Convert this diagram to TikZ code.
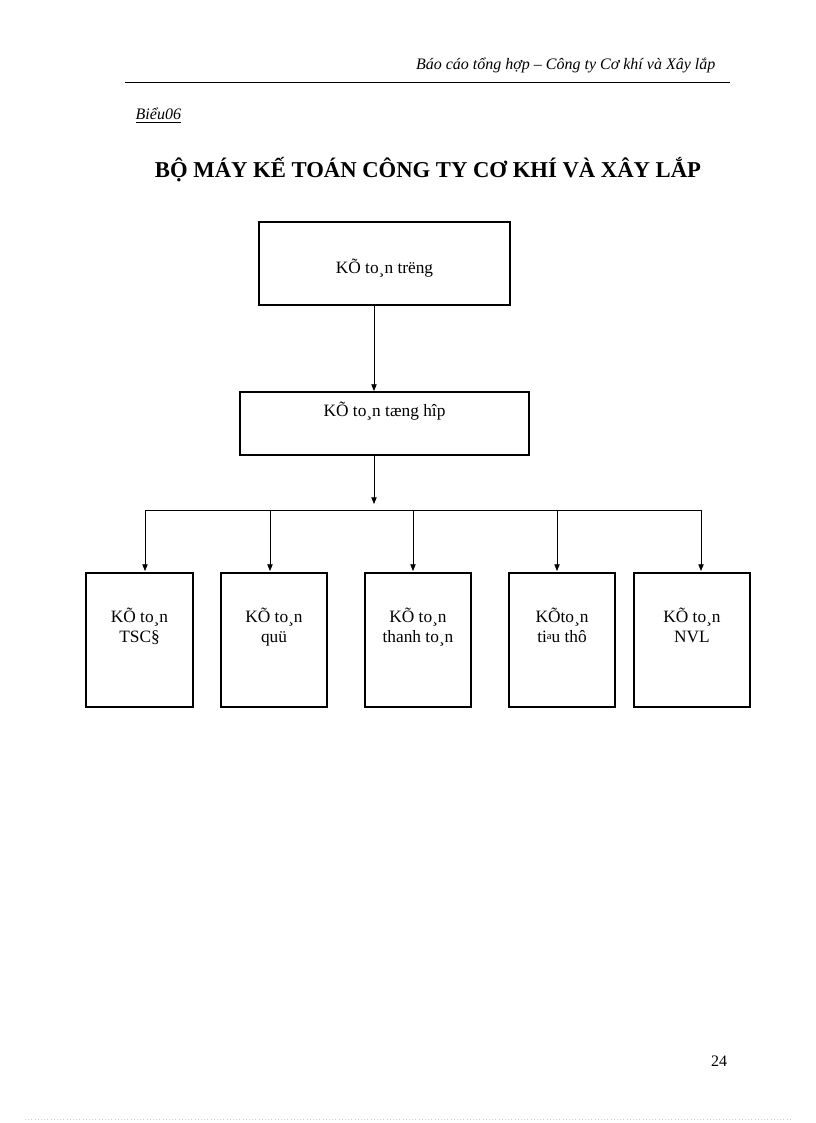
\documentclass[tikz,border=0pt]{standalone}
\usepackage{fontspec}
\setmainfont{Liberation Serif}
\usetikzlibrary{arrows.meta}
\begin{document}
\begin{tikzpicture}[x=0.75pt,y=-0.75pt,
  box/.style={draw,line width=2.2pt,minimum width=#1,inner sep=0pt},
  lbl/.style={font=\fontsize{13}{15}\selectfont,align=center},
  arr/.style={-{Triangle[length=5pt,width=4pt]},line width=0.5pt}]
\useasboundingbox (0,0) rectangle (816,1123);
\node[anchor=base east,font=\fontsize{12}{14}\selectfont\itshape] (hdr) at (720,70) {Báo cáo tổng hợp – Công ty Cơ khí và Xây lắp};
\draw[line width=0.6pt] (125,82) -- (730,82);
\node[anchor=base west,font=\fontsize{12}{14}\selectfont\itshape] (bieu) at (131,120) {\underline{Biểu06}};
\node[anchor=base,font=\fontsize{17}{20}\selectfont\bfseries] (title) at (428,178) {BỘ MÁY KẾ TOÁN CÔNG TY CƠ KHÍ VÀ XÂY LẮP};
\draw[line width=2.2pt] (259,222) rectangle (510,305);
\node[lbl] (top) at (384.5,268) {KÕ to¸n trëng};
\draw[line width=2.2pt] (240,392) rectangle (529,455);
\node[lbl] (mid) at (384.5,411) {KÕ to¸n tæng hîp};
\coordinate (tb) at (374,306);
\coordinate (mt) at (374,391);
\draw[arr] (tb) -- (mt);
\coordinate (mb) at (374,456);
\coordinate (jn) at (374,504);
\draw[arr] (mb) -- (jn);
\draw[line width=0.5pt] (145,510) -- (701,510);
\foreach \a/\b/\t [count=\i] in {86/193/{KÕ to¸n\\TSC§},221/327/{KÕ to¸n\\quü},365/471/{KÕ to¸n\\thanh to¸n},509/615/{KÕto¸n\\ti\raisebox{2pt}{\fontsize{8}{8}\selectfont a}u thô},634/750/{KÕ to¸n\\NVL}}{
  \draw[line width=2.2pt] (\a,573) rectangle (\b,707);
  \node[lbl,anchor=north] (b\i) at ({(\a+\b)/2},603) {\t};
}
\foreach \x in {145,270,413,557,701}{
  \coordinate (s\x) at (\x,510);
  \coordinate (e\x) at (\x,571);
  \draw[arr] (s\x) -- (e\x);
}
\node[anchor=base,font=\fontsize{12}{14}\selectfont] (pg) at (719,1066) {24};
\draw[dotted,gray!40,line width=0.4pt] (25,1119) -- (790,1119);
\end{tikzpicture}
\end{document}
